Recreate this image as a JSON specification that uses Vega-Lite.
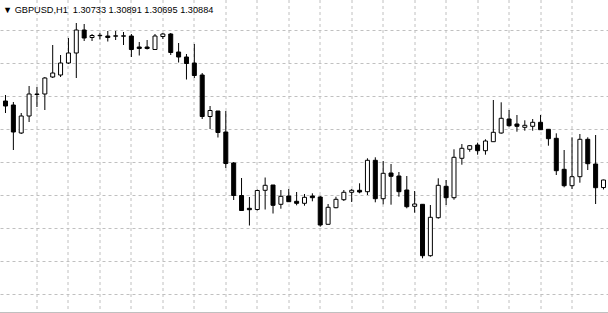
{
  "$schema": "https://vega.github.io/schema/vega-lite/v6.json",
  "width": 608,
  "height": 313,
  "autosize": {"type": "none"},
  "padding": 0,
  "background": "white",
  "view": {"stroke": null},
  "title": {
    "text": "▼ GBPUSD,H1\u00a0\u00a01.30733 1.30891 1.30695 1.30884",
    "anchor": "start",
    "frame": "group",
    "offset": -22,
    "baseline": "alphabetic",
    "font": "Liberation Sans",
    "fontSize": 9.2,
    "fontWeight": "normal",
    "color": "black",
    "dx": 3
  },
  "data": {"values": [
    {"t":0,"o":1.32464,"h":1.32584,"l":1.32224,"c":1.32364},
    {"t":1,"o":1.32384,"h":1.32444,"l":1.31484,"c":1.31844},
    {"t":2,"o":1.31824,"h":1.32224,"l":1.31804,"c":1.32164},
    {"t":3,"o":1.32164,"h":1.32764,"l":1.32044,"c":1.32604},
    {"t":4,"o":1.32594,"h":1.32744,"l":1.32344,"c":1.32604},
    {"t":5,"o":1.32604,"h":1.32944,"l":1.32284,"c":1.32924},
    {"t":6,"o":1.32944,"h":1.33584,"l":1.32924,"c":1.33024},
    {"t":7,"o":1.32984,"h":1.33384,"l":1.32944,"c":1.33224},
    {"t":8,"o":1.33224,"h":1.33724,"l":1.33204,"c":1.33424},
    {"t":9,"o":1.33424,"h":1.34024,"l":1.32924,"c":1.33884},
    {"t":10,"o":1.33884,"h":1.34004,"l":1.33664,"c":1.33724},
    {"t":11,"o":1.33734,"h":1.33804,"l":1.33664,"c":1.33774},
    {"t":12,"o":1.33770,"h":1.33824,"l":1.33694,"c":1.33778},
    {"t":13,"o":1.33764,"h":1.33864,"l":1.33654,"c":1.33734},
    {"t":14,"o":1.33760,"h":1.33864,"l":1.33684,"c":1.33768},
    {"t":15,"o":1.33760,"h":1.33844,"l":1.33584,"c":1.33768},
    {"t":16,"o":1.33764,"h":1.33804,"l":1.33344,"c":1.33494},
    {"t":17,"o":1.33544,"h":1.33644,"l":1.33374,"c":1.33514},
    {"t":18,"o":1.33544,"h":1.33684,"l":1.33494,"c":1.33514},
    {"t":19,"o":1.33494,"h":1.33804,"l":1.33484,"c":1.33764},
    {"t":20,"o":1.33754,"h":1.33824,"l":1.33704,"c":1.33804},
    {"t":21,"o":1.33804,"h":1.33824,"l":1.33384,"c":1.33434},
    {"t":22,"o":1.33444,"h":1.33624,"l":1.33234,"c":1.33344},
    {"t":23,"o":1.33344,"h":1.33404,"l":1.32894,"c":1.33214},
    {"t":24,"o":1.33224,"h":1.33604,"l":1.32924,"c":1.32974},
    {"t":25,"o":1.32984,"h":1.33024,"l":1.32104,"c":1.32154},
    {"t":26,"o":1.32154,"h":1.32364,"l":1.31904,"c":1.32274},
    {"t":27,"o":1.32264,"h":1.32264,"l":1.31734,"c":1.31834},
    {"t":28,"o":1.31844,"h":1.32264,"l":1.31124,"c":1.31214},
    {"t":29,"o":1.31224,"h":1.31244,"l":1.30484,"c":1.30574},
    {"t":30,"o":1.30574,"h":1.30924,"l":1.30270,"c":1.30274},
    {"t":31,"o":1.30318,"h":1.30544,"l":1.29974,"c":1.30290},
    {"t":32,"o":1.30294,"h":1.30694,"l":1.30274,"c":1.30674},
    {"t":33,"o":1.30678,"h":1.30934,"l":1.30294,"c":1.30778},
    {"t":34,"o":1.30784,"h":1.30784,"l":1.30214,"c":1.30378},
    {"t":35,"o":1.30398,"h":1.30684,"l":1.30310,"c":1.30558},
    {"t":36,"o":1.30564,"h":1.30704,"l":1.30450,"c":1.30450},
    {"t":37,"o":1.30458,"h":1.30644,"l":1.30378,"c":1.30418},
    {"t":38,"o":1.30418,"h":1.30604,"l":1.30370,"c":1.30538},
    {"t":39,"o":1.30564,"h":1.30618,"l":1.30458,"c":1.30530},
    {"t":40,"o":1.30544,"h":1.30564,"l":1.29950,"c":1.29984},
    {"t":41,"o":1.29998,"h":1.30404,"l":1.29994,"c":1.30338},
    {"t":42,"o":1.30330,"h":1.30550,"l":1.30318,"c":1.30498},
    {"t":43,"o":1.30490,"h":1.30684,"l":1.30464,"c":1.30638},
    {"t":44,"o":1.30638,"h":1.30704,"l":1.30444,"c":1.30678},
    {"t":45,"o":1.30678,"h":1.30818,"l":1.30618,"c":1.30644},
    {"t":46,"o":1.30650,"h":1.31318,"l":1.30584,"c":1.31278},
    {"t":47,"o":1.31278,"h":1.31338,"l":1.30438,"c":1.30510},
    {"t":48,"o":1.30510,"h":1.31264,"l":1.30398,"c":1.31018},
    {"t":49,"o":1.31024,"h":1.31204,"l":1.30390,"c":1.30958},
    {"t":50,"o":1.30964,"h":1.31044,"l":1.30550,"c":1.30650},
    {"t":51,"o":1.30684,"h":1.30964,"l":1.30318,"c":1.30350},
    {"t":52,"o":1.30358,"h":1.30664,"l":1.30230,"c":1.30404},
    {"t":53,"o":1.30398,"h":1.30398,"l":1.29318,"c":1.29370},
    {"t":54,"o":1.29370,"h":1.30384,"l":1.29350,"c":1.30138},
    {"t":55,"o":1.30130,"h":1.30918,"l":1.30110,"c":1.30778},
    {"t":56,"o":1.30758,"h":1.30884,"l":1.30384,"c":1.30530},
    {"t":57,"o":1.30530,"h":1.31498,"l":1.30490,"c":1.31338},
    {"t":58,"o":1.31318,"h":1.31604,"l":1.31190,"c":1.31518},
    {"t":59,"o":1.31498,"h":1.31584,"l":1.31450,"c":1.31570},
    {"t":60,"o":1.31584,"h":1.31630,"l":1.31390,"c":1.31470},
    {"t":61,"o":1.31470,"h":1.31698,"l":1.31390,"c":1.31664},
    {"t":62,"o":1.31650,"h":1.32484,"l":1.31650,"c":1.31838},
    {"t":63,"o":1.31824,"h":1.32438,"l":1.31810,"c":1.32118},
    {"t":64,"o":1.32104,"h":1.32284,"l":1.31950,"c":1.31970},
    {"t":65,"o":1.32004,"h":1.32184,"l":1.31850,"c":1.31958},
    {"t":66,"o":1.31938,"h":1.32078,"l":1.31870,"c":1.31978},
    {"t":67,"o":1.31958,"h":1.32104,"l":1.31870,"c":1.32038},
    {"t":68,"o":1.32038,"h":1.32184,"l":1.31890,"c":1.31890},
    {"t":69,"o":1.31898,"h":1.31898,"l":1.31570,"c":1.31710},
    {"t":70,"o":1.31718,"h":1.31818,"l":1.30984,"c":1.31070},
    {"t":71,"o":1.31098,"h":1.31484,"l":1.30738,"c":1.30770},
    {"t":72,"o":1.30770,"h":1.31738,"l":1.30704,"c":1.30950},
    {"t":73,"o":1.30950,"h":1.31804,"l":1.30830,"c":1.31698},
    {"t":74,"o":1.31698,"h":1.31738,"l":1.31084,"c":1.31210},
    {"t":75,"o":1.31204,"h":1.31784,"l":1.30404,"c":1.30730},
    {"t":76,"o":1.30733,"h":1.30891,"l":1.30695,"c":1.30884}
  ]},
  "layer": [
    {
      "mark": {"type": "rule", "color": "black", "strokeWidth": 1},
      "encoding": {
        "x": {
          "field": "t", "type": "quantitative",
          "scale": {"domain": [-0.0625, 75.9375], "nice": false, "zero": false},
          "axis": {
            "title": null, "labels": false, "ticks": false,
            "domain": true, "domainColor": "#c0c0c0", "domainWidth": 1,
            "offset": -0.5, "translate": 0, "tickCount": 100,
            "grid": true, "gridColor": "#c0c0c0", "gridDash": [3, 3], "gridWidth": 1, "gridOpacity": 1,
            "values": [4, 8, 12, 16, 20, 24, 28, 32, 36, 40, 44, 48, 52, 56, 60, 64, 68, 72]
          }
        },
        "y": {
          "field": "l", "type": "quantitative",
          "scale": {"domain": [1.28224, 1.34484], "nice": false, "zero": false},
          "axis": {
            "title": null, "labels": false, "ticks": false, "domain": false, "tickCount": 100,
            "grid": true, "gridColor": "#c0c0c0", "gridDash": [3, 3], "gridWidth": 1, "gridOpacity": 1,
            "values": [1.33884, 1.33224, 1.32564, 1.31904, 1.31244, 1.30584, 1.29924, 1.29264, 1.28604]
          }
        },
        "y2": {"field": "h"}
      }
    },
    {
      "mark": {"type": "bar", "size": 4, "stroke": "black", "strokeWidth": 1},
      "encoding": {
        "x": {"field": "t", "type": "quantitative"},
        "y": {"field": "o", "type": "quantitative"},
        "y2": {"field": "c"},
        "fill": {
          "condition": {"test": "datum.c < datum.o", "value": "black"},
          "value": "white"
        }
      }
    }
  ]
}
